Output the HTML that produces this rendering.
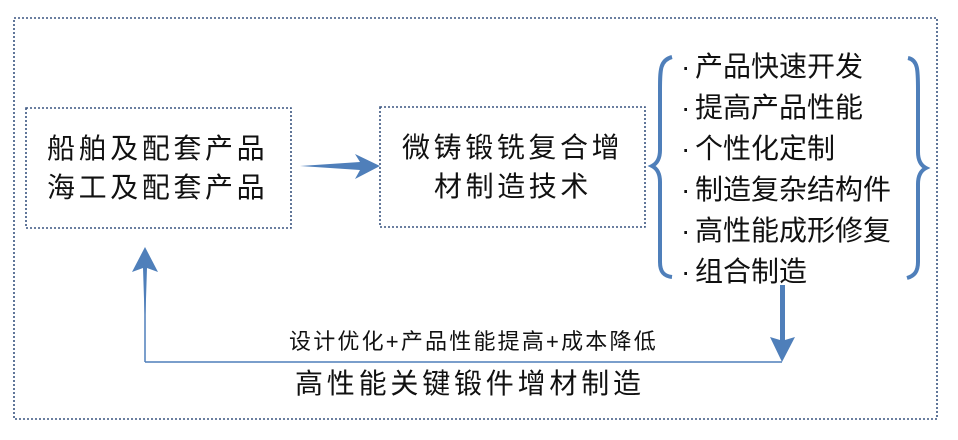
<!DOCTYPE html>
<html><head><meta charset="utf-8"><style>
html,body{margin:0;padding:0;background:#fff;}
svg{display:block;}
text{font-family:"Liberation Sans","Noto Sans CJK SC",sans-serif;fill:#111;}
</style></head><body>
<svg width="958" height="440" viewBox="0 0 958 440" xmlns="http://www.w3.org/2000/svg">
<g fill="none" stroke="#3a5580" stroke-width="1.6" stroke-dasharray="2,2">
<rect x="14" y="18" width="923" height="401"/>
<rect x="26" y="108" width="265" height="120"/>
<rect x="380" y="107" width="265" height="120"/>
</g>
<g font-size="28" letter-spacing="3.6">
<text x="47" y="158">船舶及配套产品</text>
<text x="47" y="197">海工及配套产品</text>
<text x="402" y="157">微铸锻铣复合增</text>
<text x="434" y="196">材制造技术</text>
</g>
<path d="M300,166 L360,162 L355,154 L380,166 L355,179 L360,170 Z" fill="#4f7fba"/>
<path d="M672,57 C660,60 660,70 660,90 L660,150 C660,160 656,164 652,166 C656,168 660,172 660,182 L660,262 C660,272 664,276 672,277" fill="none" stroke="#4f7fba" stroke-width="4"/>
<path d="M908,58 C918,60 918,70 918,90 L918,152 C918,162 922,166 926,168 C922,170 918,174 918,184 L918,262 C918,272 914,276 907,278" fill="none" stroke="#4f7fba" stroke-width="4"/>
<g font-size="28">
<text x="681" y="76">·</text><text x="695" y="76">产品快速开发</text>
<text x="681" y="117">·</text><text x="695" y="117">提高产品性能</text>
<text x="681" y="158">·</text><text x="695" y="158">个性化定制</text>
<text x="681" y="199">·</text><text x="695" y="199">制造复杂结构件</text>
<text x="681" y="240">·</text><text x="695" y="240">高性能成形修复</text>
<text x="681" y="281">·</text><text x="695" y="281">组合制造</text>
</g>
<path d="M145,362 L782,362" stroke="#4f7fba" stroke-width="1.5" fill="none"/>
<path d="M145,362 L145,272" stroke="#4f7fba" stroke-width="1.5" fill="none"/>
<path d="M145,247 L158,272 L147,268 L145,330 L143,268 L132,272 Z" fill="#4f7fba"/>
<path d="M780,285 L785,285 L785,340 L795,337 L782,362 L770,337 L780,340 Z" fill="#4f7fba"/>
<text x="289" y="349" font-size="22" letter-spacing="2.2">设计优化+产品性能提高+成本降低</text>
<text x="295" y="393" font-size="28" letter-spacing="3.8">高性能关键锻件增材制造</text>
</svg>
</body></html>
